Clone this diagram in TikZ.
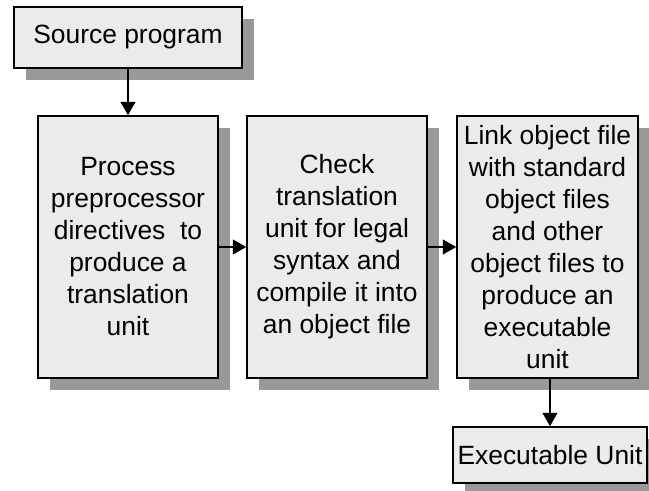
\documentclass[tikz,border=0pt]{standalone}
\usepackage{fontspec}
\setmainfont{Liberation Sans}
\usepackage{xcolor}
\usepackage{tikz}
\usetikzlibrary{arrows.meta,shadows}

\definecolor{boxfill}{HTML}{EBEBEB}
\definecolor{boxshadow}{HTML}{999999}

\begin{document}
\begin{tikzpicture}[x=0.75pt,y=-0.75pt,->,>={Triangle[length=10pt,width=11pt]},line width=1.5pt,
  font=\fontsize{19.8}{24}\selectfont]
  \tikzset{stage/.style={draw,fill=boxfill,align=center,inner sep=0pt,line width=1.2pt,
      drop shadow={shadow xshift=9pt,shadow yshift=-9pt,fill=boxshadow,opacity=1}}}
  \useasboundingbox (0,0) rectangle (649,491);

  \node[stage,minimum width=171pt,minimum height=45.75pt]	(src)	at (128,37.5)	{Source program};
  \node[stage,minimum width=135pt,minimum height=196.5pt]	(pre)	at (128,247)	{Process\\preprocessor\\directives\ \ to\\produce a\\translation\\unit};
  \node[stage,minimum width=135pt,minimum height=196.5pt]	(comp)	at (337,247)	{Check\\translation\\unit for legal\\syntax and\\compile it into\\an object file};
  \node[stage,minimum width=135.75pt,minimum height=196.5pt]	(link)	at (547.5,247)	{Link object file\\with standard\\object files\\and other\\object files to\\produce an\\executable\\unit};
  \node[stage,minimum width=145.5pt,minimum height=42pt]	(exe)	at (550,455)	{Executable Unit};

  \path	(src)	edge	(pre)
  	(pre)	edge	(comp)
	(comp)	edge	(link)
	(link.south -| exe)	edge	(exe);
\end{tikzpicture}
\end{document}
